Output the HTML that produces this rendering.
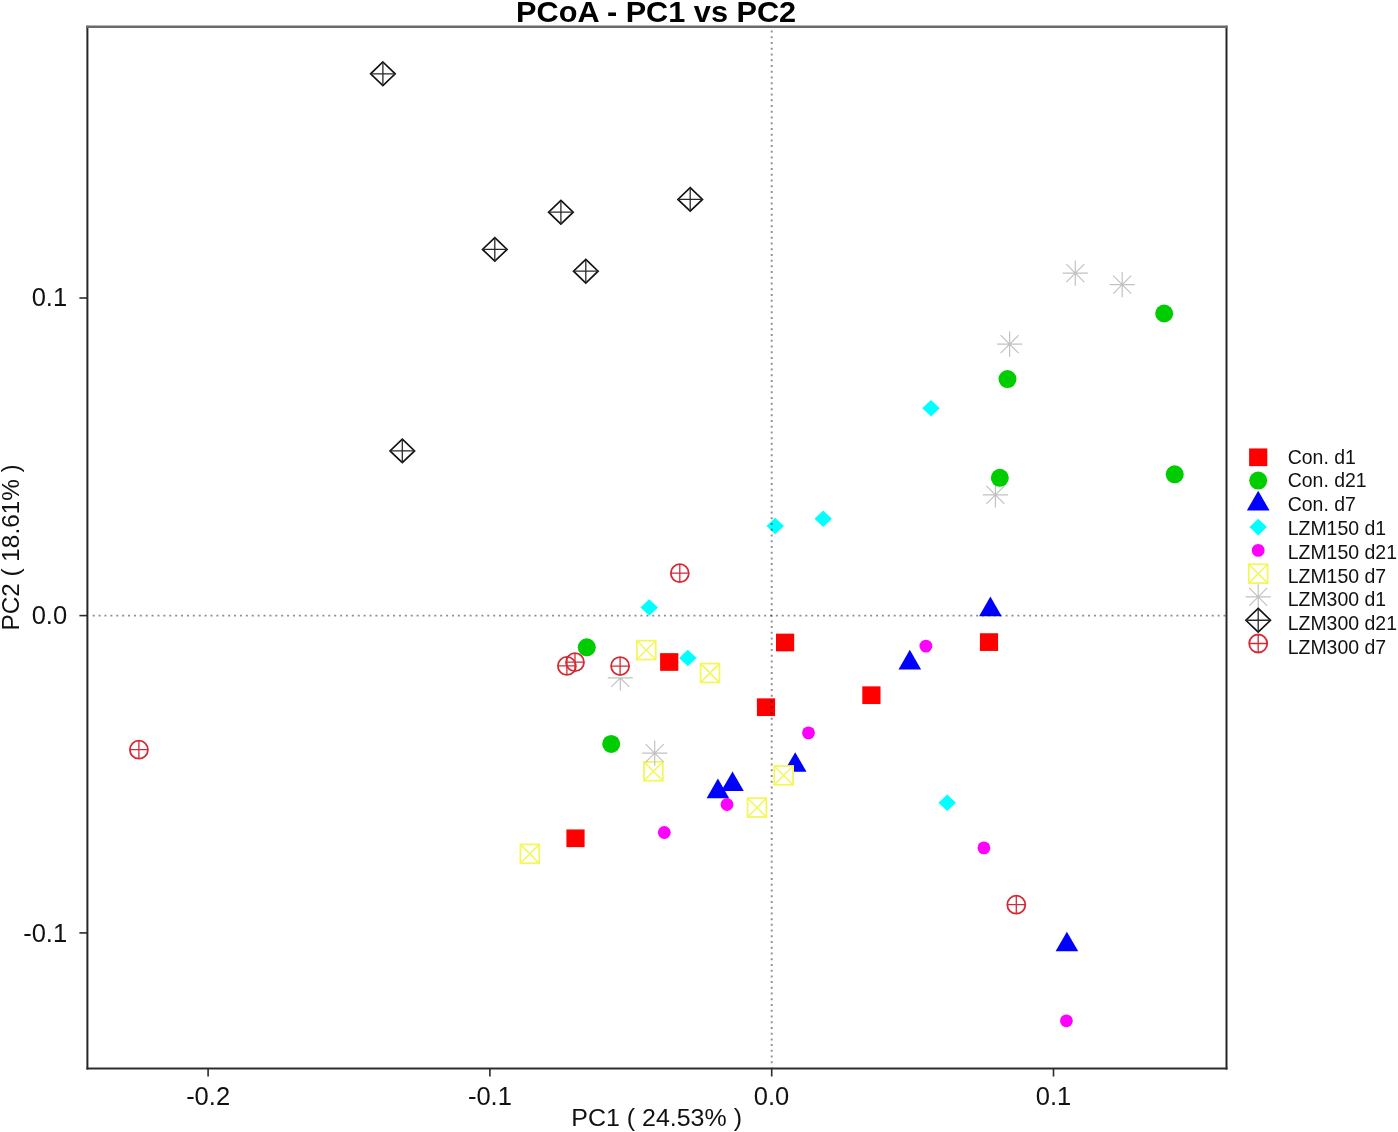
<!DOCTYPE html><html><head><meta charset="utf-8"><style>html,body{margin:0;padding:0;background:#fff;}body{width:1398px;height:1132px;overflow:hidden;}svg{display:block;will-change:transform;}text{font-family:"Liberation Sans",sans-serif;}</style></head><body>
<svg width="1398" height="1132" viewBox="0 0 1398 1132">
<rect width="1398" height="1132" fill="#fff"/>
<path d="M982.8 494.8H1008M995.4 482.2V507.4M986.4 485.8L1004.4 503.8M1004.4 485.8L986.4 503.8" stroke="#c2c2c2" stroke-width="1.2" fill="none"/>
<rect x="776" y="633.65" width="18.2" height="17.7" fill="#ff0000"/>
<rect x="979.9" y="633.25" width="18.2" height="17.7" fill="#ff0000"/>
<rect x="660.1" y="653.15" width="18.2" height="17.7" fill="#ff0000"/>
<rect x="862.3" y="686.35" width="18.2" height="17.7" fill="#ff0000"/>
<rect x="756.9" y="698.35" width="18.2" height="17.7" fill="#ff0000"/>
<rect x="566.4" y="829.45" width="18.2" height="17.7" fill="#ff0000"/>
<circle cx="1164.2" cy="313.5" r="9.0" fill="#00cd00"/>
<circle cx="1007.5" cy="379.1" r="9.0" fill="#00cd00"/>
<circle cx="999.8" cy="477.8" r="9.0" fill="#00cd00"/>
<circle cx="1174.7" cy="474.3" r="9.0" fill="#00cd00"/>
<circle cx="586.8" cy="647.3" r="9.0" fill="#00cd00"/>
<circle cx="611.2" cy="743.9" r="9.0" fill="#00cd00"/>
<polygon points="990.4,596.54 1001.71,616.13 979.09,616.13" fill="#0000ff"/>
<polygon points="909.8,649.84 921.11,669.43 898.49,669.43" fill="#0000ff"/>
<polygon points="795.2,752.14 806.51,771.73 783.89,771.73" fill="#0000ff"/>
<polygon points="732.5,771.44 743.81,791.03 721.19,791.03" fill="#0000ff"/>
<polygon points="717.9,778.54 729.21,798.13 706.59,798.13" fill="#0000ff"/>
<polygon points="1066.9,931.64 1078.21,951.23 1055.59,951.23" fill="#0000ff"/>
<polygon points="931,400 939.75,408.3 931,416.6 922.25,408.3" fill="#00ffff"/>
<polygon points="823.2,510.5 831.95,518.8 823.2,527.1 814.45,518.8" fill="#00ffff"/>
<polygon points="775.2,517.7 783.95,526 775.2,534.3 766.45,526" fill="#00ffff"/>
<polygon points="649.2,599.2 657.95,607.5 649.2,615.8 640.45,607.5" fill="#00ffff"/>
<polygon points="687.8,649.7 696.55,658 687.8,666.3 679.05,658" fill="#00ffff"/>
<polygon points="947.2,794.4 955.95,802.7 947.2,811 938.45,802.7" fill="#00ffff"/>
<circle cx="925.9" cy="646.1" r="6.4" fill="#ff00ff"/>
<circle cx="808.5" cy="732.9" r="6.4" fill="#ff00ff"/>
<circle cx="727" cy="804.5" r="6.4" fill="#ff00ff"/>
<circle cx="664.3" cy="832.5" r="6.4" fill="#ff00ff"/>
<circle cx="983.9" cy="847.9" r="6.4" fill="#ff00ff"/>
<circle cx="1066.4" cy="1020.8" r="6.4" fill="#ff00ff"/>
<rect x="636.9" y="640.7" width="18.8" height="18.8" fill="#fff" stroke="#f3f75c" stroke-width="1.8"/><path d="M636.9 640.7L655.7 659.5M655.7 640.7L636.9 659.5" stroke="#f3f75c" stroke-width="1.6"/>
<rect x="700.6" y="663.6" width="18.8" height="18.8" fill="#fff" stroke="#f3f75c" stroke-width="1.8"/><path d="M700.6 663.6L719.4 682.4M719.4 663.6L700.6 682.4" stroke="#f3f75c" stroke-width="1.6"/>
<rect x="644" y="761.9" width="18.8" height="18.8" fill="#fff" stroke="#f3f75c" stroke-width="1.8"/><path d="M644 761.9L662.8 780.7M662.8 761.9L644 780.7" stroke="#f3f75c" stroke-width="1.6"/>
<rect x="774.3" y="766" width="18.8" height="18.8" fill="#fff" stroke="#f3f75c" stroke-width="1.8"/><path d="M774.3 766L793.1 784.8M793.1 766L774.3 784.8" stroke="#f3f75c" stroke-width="1.6"/>
<rect x="747.6" y="798.2" width="18.8" height="18.8" fill="#fff" stroke="#f3f75c" stroke-width="1.8"/><path d="M747.6 798.2L766.4 817M766.4 798.2L747.6 817" stroke="#f3f75c" stroke-width="1.6"/>
<rect x="520.4" y="844.4" width="18.8" height="18.8" fill="#fff" stroke="#f3f75c" stroke-width="1.8"/><path d="M520.4 844.4L539.2 863.2M539.2 844.4L520.4 863.2" stroke="#f3f75c" stroke-width="1.6"/>
<path d="M1062.7 273.2H1087.9M1075.3 260.6V285.8M1066.3 264.2L1084.3 282.2M1084.3 264.2L1066.3 282.2" stroke="#c2c2c2" stroke-width="1.2" fill="none"/>
<path d="M1109.6 284.6H1134.8M1122.2 272V297.2M1113.2 275.6L1131.2 293.6M1131.2 275.6L1113.2 293.6" stroke="#c2c2c2" stroke-width="1.2" fill="none"/>
<path d="M997 344.2H1022.2M1009.6 331.6V356.8M1000.6 335.2L1018.6 353.2M1018.6 335.2L1000.6 353.2" stroke="#c2c2c2" stroke-width="1.2" fill="none"/>
<path d="M607.7 677.8H632.9M620.3 677.8V690.4M620.3 677.8L629.3 686.8M620.3 677.8L611.3 686.8" stroke="#c2c2c2" stroke-width="1.2" fill="none"/>
<path d="M642.1 753.1H667.3M654.7 740.5V765.7M645.7 744.1L663.7 762.1M663.7 744.1L645.7 762.1" stroke="#c2c2c2" stroke-width="1.2" fill="none"/>
<polygon points="382.9,62 395.2,73.8 382.9,85.6 370.6,73.8" fill="#fff" stroke="#111" stroke-width="1.65"/><path d="M370.6 73.8H395.2M382.9 62V85.6" stroke="#2a2a2a" stroke-width="1.3"/>
<polygon points="560.9,200.4 573.2,212.2 560.9,224 548.6,212.2" fill="#fff" stroke="#111" stroke-width="1.65"/><path d="M548.6 212.2H573.2M560.9 200.4V224" stroke="#2a2a2a" stroke-width="1.3"/>
<polygon points="690.2,187.6 702.5,199.4 690.2,211.2 677.9,199.4" fill="#fff" stroke="#111" stroke-width="1.65"/><path d="M677.9 199.4H702.5M690.2 187.6V211.2" stroke="#2a2a2a" stroke-width="1.3"/>
<polygon points="494.8,237.6 507.1,249.4 494.8,261.2 482.5,249.4" fill="#fff" stroke="#111" stroke-width="1.65"/><path d="M482.5 249.4H507.1M494.8 237.6V261.2" stroke="#2a2a2a" stroke-width="1.3"/>
<polygon points="585.8,259.4 598.1,271.2 585.8,283 573.5,271.2" fill="#fff" stroke="#111" stroke-width="1.65"/><path d="M573.5 271.2H598.1M585.8 259.4V283" stroke="#2a2a2a" stroke-width="1.3"/>
<polygon points="402.3,439.1 414.6,450.9 402.3,462.7 390,450.9" fill="#fff" stroke="#111" stroke-width="1.65"/><path d="M390 450.9H414.6M402.3 439.1V462.7" stroke="#2a2a2a" stroke-width="1.3"/>
<circle cx="679.8" cy="573.2" r="9.0" fill="none" stroke="#d42a36" stroke-width="1.8"/><path d="M670.8 573.2H688.8M679.8 564.2V582.2" stroke="#d42a36" stroke-width="1.3"/>
<circle cx="566.9" cy="665.9" r="9.0" fill="none" stroke="#d42a36" stroke-width="1.8"/><path d="M557.9 665.9H575.9M566.9 656.9V674.9" stroke="#d42a36" stroke-width="1.3"/>
<circle cx="575" cy="662.2" r="9.0" fill="none" stroke="#d42a36" stroke-width="1.8"/><path d="M566 662.2H584M575 653.2V671.2" stroke="#d42a36" stroke-width="1.3"/>
<circle cx="620.1" cy="666.1" r="9.0" fill="none" stroke="#d42a36" stroke-width="1.8"/><path d="M611.1 666.1H629.1M620.1 657.1V675.1" stroke="#d42a36" stroke-width="1.3"/>
<circle cx="138.9" cy="749.7" r="9.0" fill="none" stroke="#d42a36" stroke-width="1.8"/><path d="M129.9 749.7H147.9M138.9 740.7V758.7" stroke="#d42a36" stroke-width="1.3"/>
<circle cx="1016.3" cy="904.7" r="9.0" fill="none" stroke="#d42a36" stroke-width="1.8"/><path d="M1007.3 904.7H1025.3M1016.3 895.7V913.7" stroke="#d42a36" stroke-width="1.3"/>
<path d="M92.7 615.6H1225.5" stroke="#000" stroke-opacity="0.44" stroke-width="1.9" stroke-dasharray="2 3.8895" fill="none"/>
<path d="M771.7 30.6V1067.5" stroke="#000" stroke-opacity="0.44" stroke-width="1.9" stroke-dasharray="2 3.726" fill="none"/>
<path d="M87.4 25.8V1069.5" stroke="#262626" stroke-width="2"/>
<path d="M1226.5 25.8V1069.5" stroke="#262626" stroke-width="2"/>
<path d="M86.4 1068.5H1227.5" stroke="#2e2e2e" stroke-width="2"/>
<path d="M86.4 26.8H1227.5" stroke="#6a6a6a" stroke-width="2.4"/>
<path d="M208.1 1068.5V1076.5" stroke="#2a2a2a" stroke-width="1.6"/>
<path d="M489.9 1068.5V1076.5" stroke="#2a2a2a" stroke-width="1.6"/>
<path d="M771.7 1068.5V1076.5" stroke="#2a2a2a" stroke-width="1.6"/>
<path d="M1053.5 1068.5V1076.5" stroke="#2a2a2a" stroke-width="1.6"/>
<path d="M79.4 298.0H87.4" stroke="#2a2a2a" stroke-width="1.6"/>
<path d="M79.4 615.6H87.4" stroke="#2a2a2a" stroke-width="1.6"/>
<path d="M79.4 932.9H87.4" stroke="#2a2a2a" stroke-width="1.6"/>
<text transform="translate(208.1 1104.8) scale(1.0 1)" font-size="25.5" text-anchor="middle" fill="#111">-0.2</text>
<text transform="translate(489.9 1104.8) scale(1.0 1)" font-size="25.5" text-anchor="middle" fill="#111">-0.1</text>
<text transform="translate(771.5 1104.8) scale(1.0 1)" font-size="25.5" text-anchor="middle" fill="#111">0.0</text>
<text transform="translate(1053.5 1104.8) scale(1.0 1)" font-size="25.5" text-anchor="middle" fill="#111">0.1</text>
<text transform="translate(67.1 306.1) scale(1.0 1)" font-size="25.5" text-anchor="end" fill="#111">0.1</text>
<text transform="translate(67.1 623.9) scale(1.0 1)" font-size="25.5" text-anchor="end" fill="#111">0.0</text>
<text transform="translate(67.1 941.5) scale(1.0 1)" font-size="25.5" text-anchor="end" fill="#111">-0.1</text>
<text transform="translate(656.1 21.7) scale(1.0225 1)" font-size="30" font-weight="bold" text-anchor="middle" fill="#000">PCoA - PC1 vs PC2</text>
<text transform="translate(656.6 1125.8) scale(1.02 1)" font-size="24.5" text-anchor="middle" fill="#111">PC1 ( 24.53% )</text>
<text transform="translate(19 547.45) rotate(-90) scale(0.98 1)" font-size="24.8" text-anchor="middle" fill="#111">PC2 ( 18.61% )</text>
<rect x="1249.1" y="448.45" width="18.2" height="17.7" fill="#ff0000"/>
<text transform="translate(1287.7 463.6) scale(0.945 1)" font-size="20.6" text-anchor="start" fill="#111">Con. d1</text>
<circle cx="1258.2" cy="480.57" r="9.0" fill="#00cd00"/>
<text transform="translate(1287.7 487.41) scale(0.945 1)" font-size="20.6" text-anchor="start" fill="#111">Con. d21</text>
<polygon points="1258.2,490.79 1269.51,510.38 1246.89,510.38" fill="#0000ff"/>
<text transform="translate(1287.7 511.21) scale(0.945 1)" font-size="20.6" text-anchor="start" fill="#111">Con. d7</text>
<polygon points="1258.2,518.83 1266.95,527.12 1258.2,535.42 1249.45,527.12" fill="#00ffff"/>
<text transform="translate(1287.7 535.02) scale(0.945 1)" font-size="20.6" text-anchor="start" fill="#111">LZM150 d1</text>
<circle cx="1258.2" cy="550.4" r="6.4" fill="#ff00ff"/>
<text transform="translate(1287.7 558.82) scale(0.945 1)" font-size="20.6" text-anchor="start" fill="#111">LZM150 d21</text>
<rect x="1248.8" y="564.27" width="18.8" height="18.8" fill="#fff" stroke="#f3f75c" stroke-width="1.8"/><path d="M1248.8 564.27L1267.6 583.07M1267.6 564.27L1248.8 583.07" stroke="#f3f75c" stroke-width="1.6"/>
<text transform="translate(1287.7 582.63) scale(0.945 1)" font-size="20.6" text-anchor="start" fill="#111">LZM150 d7</text>
<path d="M1245.6 596.95H1270.8M1258.2 584.35V609.55M1249.2 587.95L1267.2 605.95M1267.2 587.95L1249.2 605.95" stroke="#c2c2c2" stroke-width="1.2" fill="none"/>
<text transform="translate(1287.7 606.44) scale(0.945 1)" font-size="20.6" text-anchor="start" fill="#111">LZM300 d1</text>
<polygon points="1258.2,608.43 1270.5,620.23 1258.2,632.02 1245.9,620.23" fill="#fff" stroke="#111" stroke-width="1.65"/><path d="M1245.9 620.23H1270.5M1258.2 608.43V632.02" stroke="#2a2a2a" stroke-width="1.3"/>
<text transform="translate(1287.7 630.24) scale(0.945 1)" font-size="20.6" text-anchor="start" fill="#111">LZM300 d21</text>
<circle cx="1258.2" cy="643.5" r="9.0" fill="none" stroke="#d42a36" stroke-width="1.8"/><path d="M1249.2 643.5H1267.2M1258.2 634.5V652.5" stroke="#d42a36" stroke-width="1.3"/>
<text transform="translate(1287.7 654.05) scale(0.945 1)" font-size="20.6" text-anchor="start" fill="#111">LZM300 d7</text>
</svg></body></html>
